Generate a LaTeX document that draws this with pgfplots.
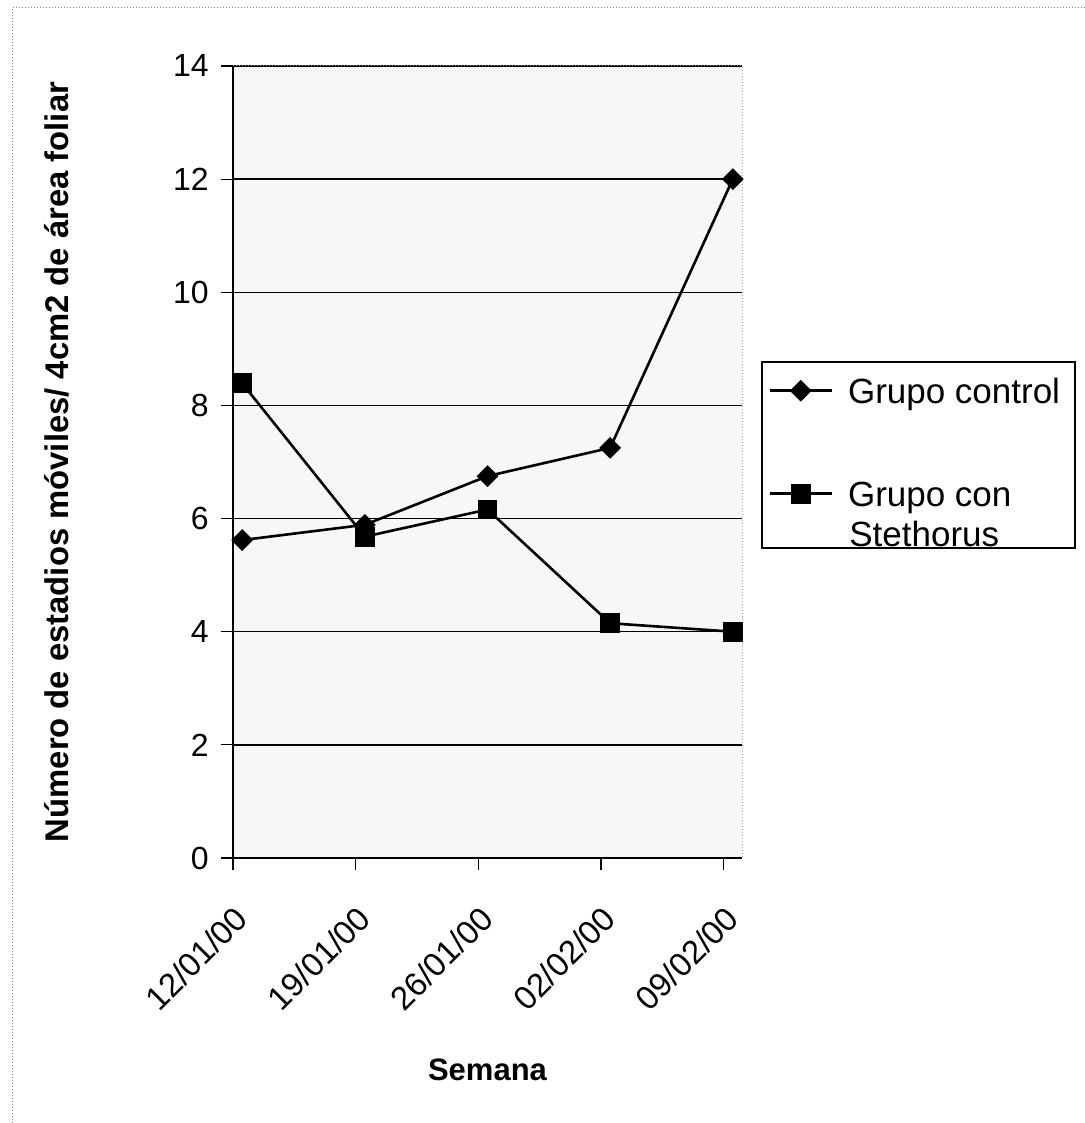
\documentclass[border=0pt]{standalone}
\usepackage{pgfplots}
\pgfplotsset{compat=1.18}
\usepackage{fontspec}
\setmainfont{Liberation Sans}
\begin{document}
\begin{tikzpicture}
\path[use as bounding box] (0,0) rectangle (542.5pt,561.5pt);
\draw[black!50, line width=0.5pt, densely dotted] (6pt,0pt) -- (6pt,557.5pt) -- (542.5pt,557.5pt);
\begin{axis}[
  at={(116.5pt,132.5pt)}, anchor=south west,
  scale only axis, width=254.5pt, height=396pt,
  clip mode=individual,
  xmin=-0.075, xmax=4.075, ymin=0, ymax=14,
  xtick={-0.075,0.925,1.925,2.925,3.925},
  xticklabels={12/01/00,19/01/00,26/01/00,02/02/00,09/02/00},
  ytick={0,2,4,6,8,10,12,14},
  tick pos=left,
  ymajorgrids, grid style={black, line width=0.7pt},
  axis background/.style={fill=black!3},
  axis line style={black!35, densely dotted, line width=0.5pt},
  tick align=outside, major tick length=6pt,
  tick style={black, line width=0.6pt, solid},
  /pgf/number format/assume math mode=true,
  yticklabel style={font=\fontsize{16}{19}\selectfont, anchor=east, inner sep=0pt},
  xticklabel style={font=\fontsize{16.5}{19}\selectfont, rotate=45, anchor=north east, inner sep=0pt},
  xticklabel shift=17pt, yticklabel shift=6pt,
  xlabel={\bfseries Semana},
  xlabel style={font=\fontsize{15.5}{18}\selectfont, at={(axis description cs:0.5,0)}, anchor=center, yshift=-106pt},
  ylabel={\bfseries Número de estadios móviles/ 4cm2 de área foliar},
  ylabel style={font=\fontsize{16.4}{19}\selectfont, at={(axis description cs:0,0.5)}, anchor=center, yshift=88pt},
  legend style={at={(1.0236,0.6351)}, anchor=north west, draw=none, fill=none,
    font=\fontsize{17.5}{20}\selectfont, cells={anchor=base west, inner sep=0pt},
    inner xsep=4pt, inner ysep=0pt, row sep=32pt, /tikz/column sep=5.5pt},
  legend image code/.code={\path (0pt,0pt); \draw[mark repeat=2,mark phase=2,#1] plot coordinates {(3pt,6.3pt)(18.5pt,6.3pt)(34pt,6.3pt)};},
]
\draw[black, line width=0.6pt, fill=white] (rel axis cs:1.0393,0.6263) rectangle (rel axis cs:1.6542,0.3914);
\addplot[black, line width=1.3pt, mark=square*, mark size=3.2pt, mark options={rotate=45, solid}]
  coordinates {(0,5.62)(1,5.89)(2,6.75)(3,7.25)(4,12.0)};
\addlegendentry{Grupo control\vrule width 0pt height 22pt depth 37pt}
\addplot[black, line width=1.3pt, mark=square*, mark size=4.3pt, mark options={solid}]
  coordinates {(0,8.39)(1,5.68)(2,6.16)(3,4.15)(4,4.0)};
\addlegendentry{Grupo con\vrule width 0pt height 14pt depth 6pt}
\node[anchor=base west, inner sep=0pt, font=\fontsize{17.5}{20}\selectfont] at (rel axis cs:1.2102,0.3927) {Stethorus};
\draw[black, line width=0.8pt, solid] (rel axis cs:0,1) -- (rel axis cs:0,0) -- (rel axis cs:1,0);
\end{axis}
\end{tikzpicture}
\end{document}
